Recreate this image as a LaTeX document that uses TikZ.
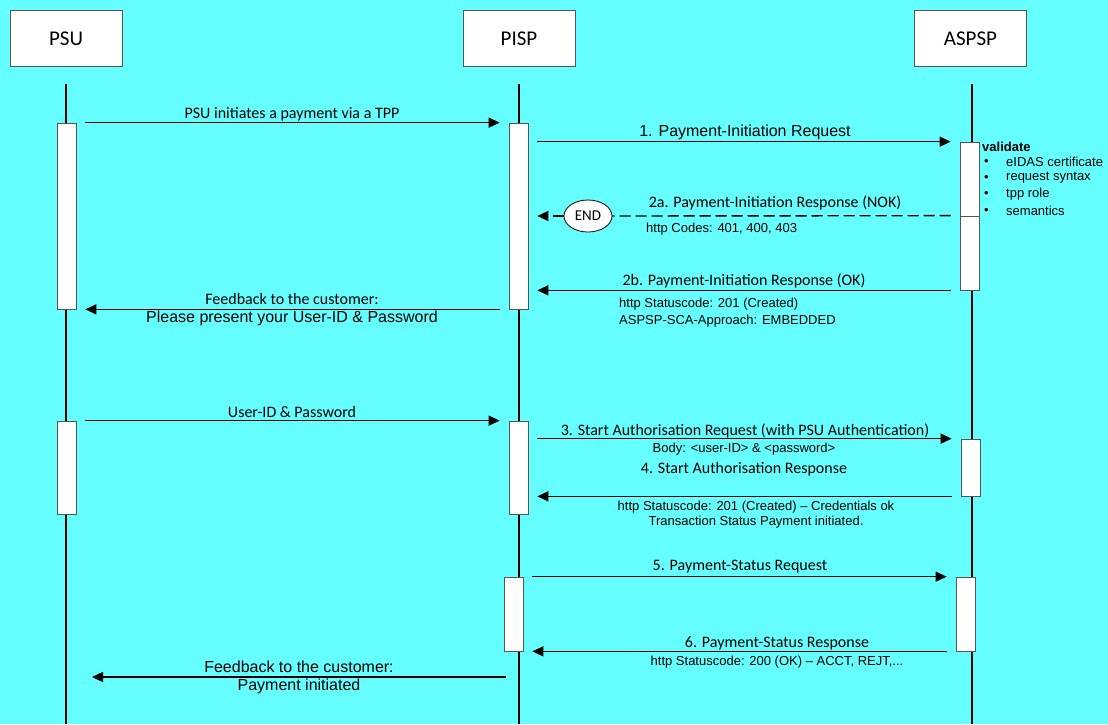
\documentclass[tikz,border=0pt]{standalone}
\usepackage{fontspec}
\setmainfont{Liberation Sans}
\newfontfamily\calib{Carlito}
\usetikzlibrary{arrows.meta,shapes.geometric}
\definecolor{bgcyan}{HTML}{66FFFF}
\definecolor{boxgray}{HTML}{555555}
\tikzset{
  head/.style={draw=boxgray, fill=white, line width=0.9pt, minimum width=112pt, minimum height=56pt, inner sep=0pt, font=\calib\fontsize{21}{24}\selectfont},
  act/.style={draw=boxgray, fill=white, line width=0.7pt, minimum width=19pt, inner sep=0pt},
  lifeline/.style={line width=2pt, black},
  msg/.style={line width=1.4pt, -{Triangle[length=11pt,width=10pt]}, shorten <=9pt, shorten >=9pt},
  dmsg/.style={msg, dash pattern=on 11pt off 5pt},
  clab/.style={font=\calib\fontsize{16}{18}\selectfont, inner sep=0pt},
  alab/.style={font=\fontsize{16}{18}\selectfont, inner sep=0pt},
  slab/.style={font=\fontsize{13}{15}\selectfont, inner sep=0pt},
}
\begin{document}
\begin{tikzpicture}[x=1pt,y=-1pt]
\fill[bgcyan] (0,0) rectangle (1108,724);
\useasboundingbox (0,0) rectangle (1108,724);
% headers
\node[head] (psu) at (66,38.5) {PSU};
\node[head] (pisp) at (519,38.5) {PISP};
\node[head] (aspsp) at (970.5,38.5) {ASPSP};
% lifelines
\draw[lifeline] (66,84) -- (66,724);
\draw[lifeline] (519,84) -- (519,724);
\draw[lifeline] (971.5,84) -- (971.5,724);
% activation boxes
\node[act, minimum height=186pt] (pa1) at (66.5,216) {};
\node[act, minimum height=186pt] (qa1) at (518.5,216) {};
\node[act, minimum height=74pt] (ra1) at (969.5,179) {};
\node[act, minimum height=74pt] (ra2) at (969.5,253) {};
\node[act, minimum height=93pt] (pa2) at (66.5,467.5) {};
\node[act, minimum height=93pt] (qa2) at (518.5,467.5) {};
\node[act, minimum height=57pt] (ra3) at (970.5,467.5) {};
\node[act, minimum height=74pt] (qa3) at (513.5,614) {};
\node[act, minimum height=74pt] (ra4) at (965.5,614) {};
% END
\node[ellipse, draw=black, fill=white, line width=0.8pt, minimum width=48pt, minimum height=32pt, inner sep=0pt, font=\calib\fontsize{15}{17}\selectfont] (end) at (588,216) {END};
% validate
\node[anchor=west, inner sep=0pt, font=\bfseries\fontsize{13}{15}\selectfont] (val) at (982,147) {validate};
\node[slab, anchor=west] (b1) at (984,162) {•};
\node[slab, anchor=west] (t1) at (1006,162) {eIDAS certificate};
\node[slab, anchor=west] (b2) at (984,178) {•};
\node[slab, anchor=west] (t2) at (1006,178) {request syntax};
\node[slab, anchor=west] (b3) at (984,194) {•};
\node[slab, anchor=west] (t3) at (1006,194) {tpp role};
\node[slab, anchor=west] (b4) at (984,211) {•};
\node[slab, anchor=west] (t4) at (1006,211) {semantics};
% messages
\draw[msg] (pa1.north east) -- (qa1.north west);
\node[clab] (l0) at (292,114) {PSU initiates a payment via a TPP};

\draw[msg] (qa1.east |- ra1.north) -- (ra1.north west);
\node[alab] (l1) at (745,132) {1. Payment-Initiation Request};

\draw[dmsg, -, shorten >=0pt] (ra2.north west) -- (end.east);
\draw[dmsg, shorten <=0pt] (end.west) -- (qa1.east |- end.west);
\node[clab] (l2a) at (775,203) {2a. Payment-Initiation Response (NOK)};
\node[slab, anchor=west] (l2ab) at (646,229) {http Codes: 401, 400, 403};

\draw[msg] (ra2.south west) -- (qa1.east |- ra2.south);
\node[clab] (l2b) at (744,281) {2b. Payment-Initiation Response (OK)};
\node[slab, anchor=west] (l2bb) at (619,304) {http Statuscode: 201 (Created)};
\node[slab, anchor=west] (l2bc) at (619,321) {ASPSP-SCA-Approach: EMBEDDED};

\draw[msg] (qa1.south west) -- (pa1.south east);
\node[clab] (f1a) at (292,299) {Feedback to the customer:};
\node[alab] (f1b) at (292,318) {Please present your User-ID \& Password};

\draw[msg] (pa2.north east) -- (qa2.north west);
\node[clab] (lu) at (292,412) {User-ID \& Password};

\draw[msg] (qa2.east |- ra3.north) -- (ra3.north west);
\node[clab] (l3) at (745,431) {3. Start Authorisation Request (with PSU Authentication)};
\node[slab] (l3b) at (744,449) {Body: <user-ID> \& <password>};

\draw[msg] (ra3.south west) -- (qa2.east |- ra3.south);
\node[clab] (l4) at (744,469) {4. Start Authorisation Response};
\node[slab] (l4b) at (756,507) {http Statuscode: 201 (Created) – Credentials ok};
\node[slab] (l4c) at (756,522) {Transaction Status Payment initiated.};

\draw[msg] (qa3.north east) -- (ra4.north west);
\node[clab] (l5) at (740,567) {5. Payment-Status Request};

\draw[msg] (ra4.south west) -- (qa3.south east);
\node[clab] (l6) at (777,643) {6. Payment-Status Response};
\node[slab] (l6b) at (777,662) {http Statuscode: 200 (OK) – ACCT, REJT,...};

\coordinate (fb2s) at (506,677);
\coordinate (fb2e) at (92,677);
\draw[msg, shorten <=0pt, shorten >=0pt] (fb2s) -- (fb2e);
\node[alab] (f2a) at (299,667) {Feedback to the customer:};
\node[alab] (f2b) at (299,686) {Payment initiated};
\end{tikzpicture}
\end{document}
